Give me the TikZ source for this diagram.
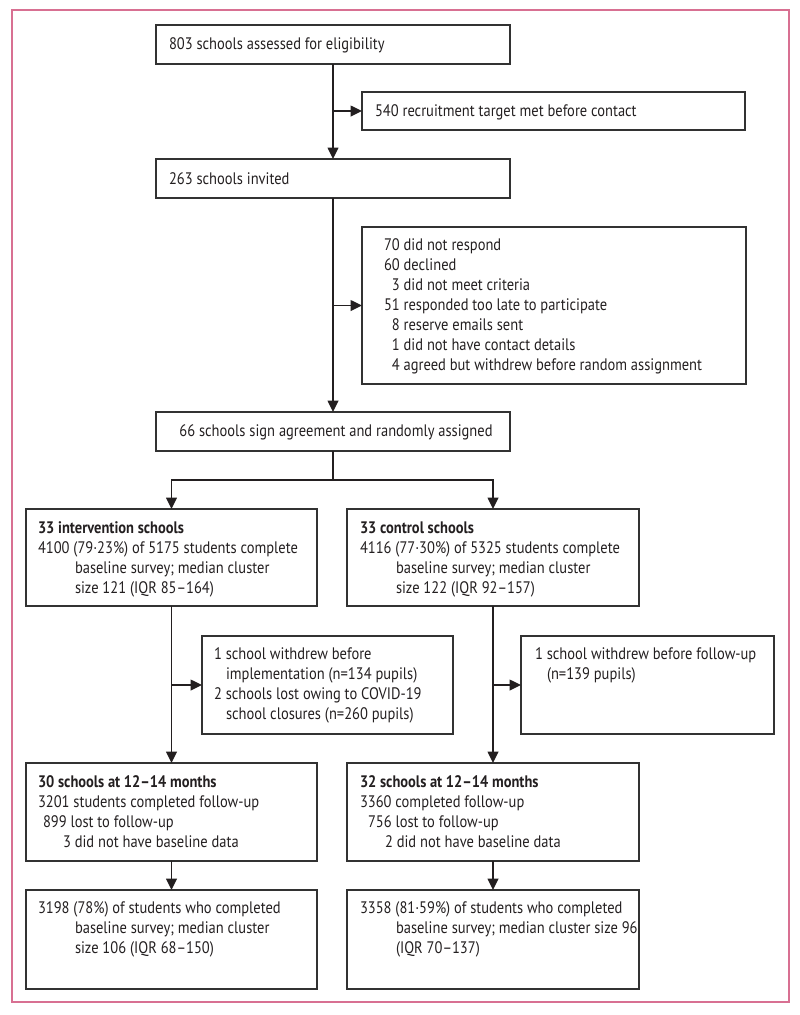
\documentclass[tikz,border=0pt]{standalone}
\usepackage{fontspec}
\setmainfont[FakeStretch=0.87]{PT Sans}
\usetikzlibrary{arrows.meta}
\definecolor{framepink}{RGB}{216,112,146}
\definecolor{ink}{RGB}{35,31,32}
\definecolor{boxline}{RGB}{50,50,50}
\tikzset{
  boxst/.style={draw=boxline, line width=1.1pt, inner sep=0pt, outer sep=0pt},
  txt/.style={anchor=base west, inner sep=0pt, outer sep=0pt, text=ink, font=\fontsize{12.5}{15}\selectfont},
  conn/.style={draw=ink, line width=1.1pt},
  arr/.style={conn, -{Triangle[length=8.5pt,width=8pt]}},
}
\newcommand\mybox[5]{\node[boxst, minimum width={(#4-#2)*0.75pt}, minimum height={(#5-#3)*0.75pt}] (#1) at ({(#2+#4)/2},{(#3+#5)/2}) {};}
\newcommand\txtline[4]{\node[txt] (#1) at (#2,#3) {#4};}
\begin{document}
\begin{tikzpicture}[x=0.75pt,y=-0.75pt]
\useasboundingbox (0,0) rectangle (800,1015);
\draw[framepink, line width=1.3pt] (12,10) rectangle (789,1002);
% boxes
\mybox{b1}{156}{25}{510}{64}
\mybox{b2}{362}{92}{745}{130}
\mybox{b3}{156}{159}{510}{198}
\mybox{b4}{362}{227}{746}{384}
\mybox{b5}{156}{412}{510}{451}
\mybox{b6}{26}{509}{317}{606}
\mybox{b7}{347}{509}{639}{606}
\mybox{b8}{202}{636}{453}{734}
\mybox{b9}{521}{636}{774}{734}
\mybox{b10}{26}{763}{317}{861}
\mybox{b11}{347}{763}{639}{861}
\mybox{b12}{26}{890}{317}{989}
\mybox{b13}{347}{890}{639}{989}
% texts
\txtline{t1}{169}{49}{803 schools assessed for eligibility}
\txtline{t2}{375}{116}{540 recruitment target met before contact}
\txtline{t3}{169}{184}{263 schools invited}
\txtline{t4a}{384}{250}{70 did not respond}
\txtline{t4b}{384}{270}{60 declined}
\txtline{t4c}{384}{290}{\hphantom{0}3 did not meet criteria}
\txtline{t4d}{384}{310}{51 responded too late to participate}
\txtline{t4e}{384}{330}{\hphantom{0}8 reserve emails sent}
\txtline{t4f}{384}{350}{\hphantom{0}1 did not have contact details}
\txtline{t4g}{384}{370}{\hphantom{0}4 agreed but withdrew before random assignment}
\node[txt, anchor=base] (t5) at (336,436.5) {66 schools sign agreement and randomly assigned};
\txtline{t6a}{38}{533}{\bfseries 33 intervention schools}
\txtline{t6b}{38}{553}{4100 (79·23\%) of 5175 students complete}
\txtline{t6c}{75}{573}{baseline survey; median cluster}
\txtline{t6d}{75}{593}{size 121 (IQR 85–164)}
\txtline{t7a}{360}{533}{\bfseries 33 control schools}
\txtline{t7b}{360}{553}{4116 (77·30\%) of 5325 students complete}
\txtline{t7c}{396}{573}{baseline survey; median cluster}
\txtline{t7d}{396}{593}{size 122 (IQR 92–157)}
\txtline{t8a}{214}{659}{1 school withdrew before}
\txtline{t8b}{226}{679}{implementation (n=134 pupils)}
\txtline{t8c}{214}{699}{2 schools lost owing to COVID-19}
\txtline{t8d}{226}{719}{school closures (n=260 pupils)}
\txtline{t9a}{535}{659}{1 school withdrew before follow-up}
\txtline{t9b}{547}{679}{(n=139 pupils)}
\txtline{t10a}{38}{787}{\bfseries 30 schools at 12–14 months}
\txtline{t10b}{38}{807}{3201 students completed follow-up}
\txtline{t10c}{43}{827}{899 lost to follow-up}
\txtline{t10d}{63}{847}{3 did not have baseline data}
\txtline{t11a}{360}{787}{\bfseries 32 schools at 12–14 months}
\txtline{t11b}{360}{807}{3360 completed follow-up}
\txtline{t11c}{368}{827}{756 lost to follow-up}
\txtline{t11d}{385}{847}{2 did not have baseline data}
\txtline{t12a}{38}{913}{3198 (78\%) of students who completed}
\txtline{t12b}{75}{933}{baseline survey; median cluster}
\txtline{t12c}{75}{953}{size 106 (IQR 68–150)}
\txtline{t13a}{360}{913}{3358 (81·59\%) of students who completed}
\txtline{t13b}{396}{933}{baseline survey; median cluster size 96}
\txtline{t13c}{396}{953}{(IQR 70–137)}
% connectors
\draw[arr] (b1) -- (b3);
\draw[arr] (b1.south |- b2.west) -- (b2.west);
\draw[arr] (b3) -- (b5);
\draw[arr] (b3.south |- b4.west) -- (b4.west);
\coordinate (sp) at (333,480);
\draw[conn] (b5.south) -- (sp);
\draw[arr] (sp) -| (b6.north);
\draw[arr] (sp) -| (b7.north);
\draw[arr] (b6) -- (b10);
\draw[arr] (b6.south |- b8.west) -- (b8.west);
\draw[arr] (b7) -- (b11);
\draw[arr] (b7.south |- b9.west) -- (b9.west);
\draw[arr] (b10) -- (b12);
\draw[arr] (b11) -- (b13);
\end{tikzpicture}
\end{document}
